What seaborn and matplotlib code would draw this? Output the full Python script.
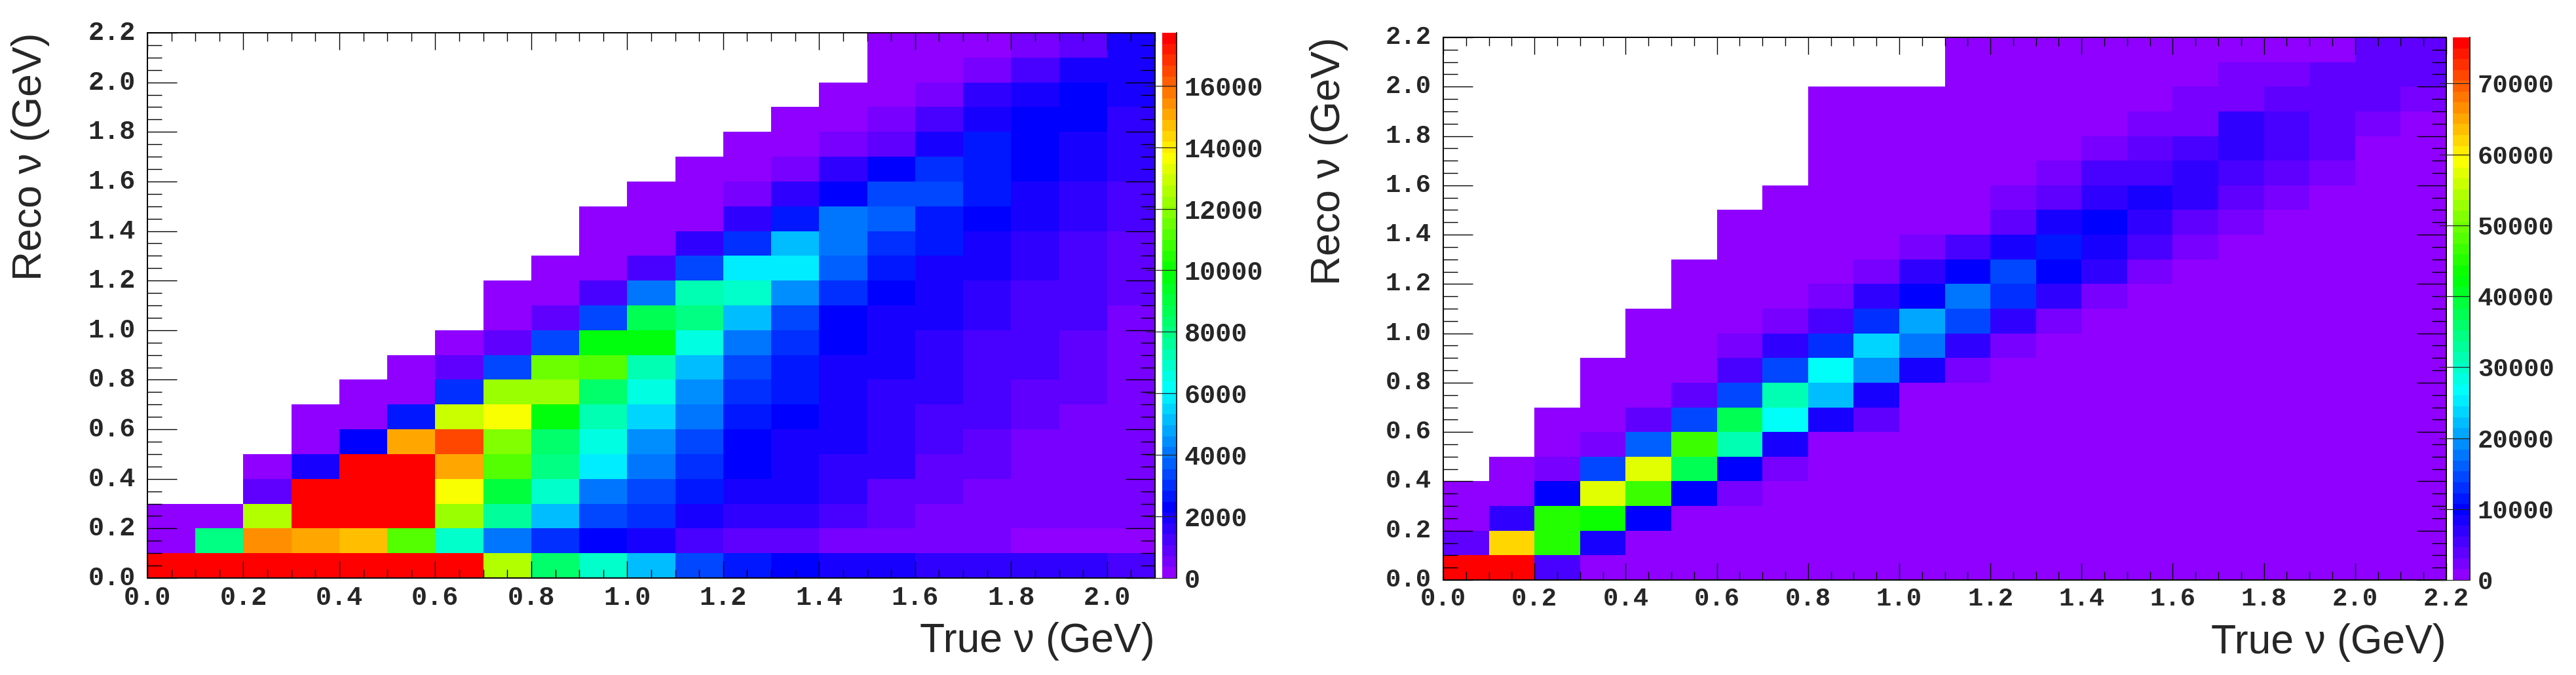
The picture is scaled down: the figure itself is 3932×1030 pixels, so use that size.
import colorsys
import numpy as np
import matplotlib
matplotlib.use("Agg")
import matplotlib.pyplot as plt
from matplotlib.colors import ListedColormap
import seaborn as sns

# every inner list is one True-nu bin, from the lowest Reco-nu bin upwards.
# bins above the last value are empty (white)
left_columns = [
    [17800, 100, 100],
    [17800, 7900, 100],
    [17800, 15430, 12600, 1000, 100],
    [17800, 15050, 17800, 17800, 1900, 100, 100],
    [17800, 14660, 17800, 17800, 17800, 2300, 100, 100],
    [17800, 11180, 17800, 17800, 17800, 15050, 2700, 100, 100],
    [17800, 6800, 12300, 13740, 15050, 16500, 12890, 2900, 1000, 100],
    [12450, 4200, 7700, 9000, 11180, 11820, 13740, 12300, 3300, 800, 100, 100],
    [8500, 3000, 5000, 6800, 7900, 8500, 9900, 12300, 11570, 3500, 1000, 100, 100],
    [7000, 2300, 3500, 4200, 6000, 6600, 7400, 8500, 11180, 9900, 3500, 1200, 100, 100, 100],
    [5100, 1900, 2900, 3200, 4000, 4600, 5500, 6400, 7200, 9900, 8800, 4000, 1200, 100, 100, 100],
    [3500, 1300, 1900, 2500, 3000, 3500, 4000, 4300, 5100, 6400, 7900, 7400, 3200, 1500, 100, 100, 100],
    [2800, 900, 1500, 1900, 2200, 2400, 2700, 2900, 3500, 4200, 5100, 6800, 6000, 2900, 1500, 700, 100, 100],
    [2300, 1000, 1500, 1800, 1900, 2000, 2200, 2600, 2800, 3100, 3200, 4300, 5800, 5100, 2700, 1700, 700, 100, 100],
    [2000, 500, 1100, 1500, 1700, 1900, 1900, 2100, 2100, 2200, 2400, 2900, 3600, 4200, 4000, 2400, 1500, 700, 100, 100],
    [1800, 500, 1000, 900, 1500, 1600, 1700, 1700, 1900, 1900, 2100, 2200, 2500, 2900, 3700, 3200, 2200, 900, 500, 100, 100, 100],
    [1700, 400, 700, 900, 900, 1100, 1200, 1500, 1700, 1700, 1800, 1800, 2050, 2500, 2700, 3200, 2900, 2000, 1200, 700, 300, 100],
    [1600, 400, 500, 650, 850, 950, 1100, 1200, 1300, 1400, 1600, 1700, 1800, 2100, 2200, 2600, 2700, 2800, 2050, 1500, 700, 150],
    [1600, 350, 450, 550, 700, 700, 850, 950, 1100, 1200, 1400, 1400, 1500, 1600, 1900, 2100, 2200, 2400, 2200, 1900, 1200, 500],
    [1600, 350, 400, 500, 600, 700, 700, 750, 800, 950, 1150, 1200, 1200, 1200, 1600, 1700, 1800, 1900, 2200, 2200, 1900, 900],
    [1100, 100, 400, 500, 600, 600, 700, 700, 600, 650, 600, 850, 950, 950, 1100, 1400, 1500, 1600, 1700, 2000, 2100, 1800],
]

right_columns = [
    [76600, 3500, 300, 300],
    [76600, 61800, 6300, 300, 300],
    [5200, 45600, 45000, 9400, 2000, 300, 300],
    [300, 7800, 44000, 57300, 14000, 2000, 300, 300, 300],
    [300, 1500, 9400, 47100, 57300, 15700, 4500, 300, 300, 300, 300],
    [300, 300, 1500, 9400, 37500, 47100, 15000, 4100, 1500, 300, 300, 300, 300],
    [300, 300, 300, 2000, 9500, 31500, 37500, 14000, 4800, 2000, 300, 300, 300, 300, 300],
    [300, 300, 300, 300, 1800, 7800, 26200, 31500, 15000, 6300, 2700, 300, 300, 300, 300, 300],
    [300, 300, 300, 300, 300, 1500, 7800, 22000, 26200, 13500, 5200, 2500, 300, 300, 300, 300, 300, 300, 300, 300],
    [300, 300, 300, 300, 300, 1500, 3500, 7800, 18800, 23000, 13000, 6800, 2000, 300, 300, 300, 300, 300, 300, 300],
    [300, 300, 300, 300, 300, 300, 1500, 1500, 8300, 17800, 19900, 10300, 6300, 2000, 600, 300, 300, 300, 300, 300],
    [300, 300, 300, 300, 300, 300, 300, 1300, 1800, 7300, 14000, 17800, 9400, 5200, 1500, 300, 300, 300, 300, 300, 300, 300],
    [300, 300, 300, 300, 300, 300, 300, 300, 300, 2000, 6800, 13500, 14500, 8300, 4100, 1800, 300, 300, 300, 300, 300, 300],
    [300, 300, 300, 300, 300, 300, 300, 300, 300, 300, 2700, 6300, 9400, 11000, 8000, 4100, 2000, 300, 300, 300, 300, 300],
    [300, 300, 300, 300, 300, 300, 300, 300, 300, 300, 300, 2000, 6300, 8300, 9400, 7300, 4800, 2500, 300, 300, 300, 300],
    [300, 300, 300, 300, 300, 300, 300, 300, 300, 300, 300, 300, 2000, 5200, 7300, 8300, 5800, 4100, 2000, 300, 300, 300],
    [300, 300, 300, 300, 300, 300, 300, 300, 300, 300, 300, 300, 300, 2000, 4100, 7300, 7300, 5600, 2000, 2000, 300, 300],
    [300, 300, 300, 300, 300, 300, 300, 300, 300, 300, 300, 300, 300, 300, 2000, 4100, 5600, 6300, 6300, 2000, 1800, 300],
    [300, 300, 300, 300, 300, 300, 300, 300, 300, 300, 300, 300, 300, 300, 300, 2000, 3500, 5600, 5600, 3500, 2000, 1000],
    [300, 300, 300, 300, 300, 300, 300, 300, 300, 300, 300, 300, 300, 300, 300, 300, 2000, 4100, 4100, 3500, 3500, 1000],
    [300, 300, 300, 300, 300, 300, 300, 300, 300, 300, 300, 300, 300, 300, 300, 300, 300, 1500, 2000, 3500, 3500, 4100],
    [300, 300, 300, 300, 300, 300, 300, 300, 300, 300, 300, 300, 300, 300, 300, 300, 300, 300, 1500, 1800, 4100, 4100],
]

y_ticks = [0.0, 0.2, 0.4, 0.6, 0.8, 1.0, 1.2, 1.4, 1.6, 1.8, 2.0, 2.2]
left_x_ticks = [0.0, 0.2, 0.4, 0.6, 0.8, 1.0, 1.2, 1.4, 1.6, 1.8, 2.0]
right_x_ticks = y_ticks
left_cbar_ticks = [0, 2000, 4000, 6000, 8000, 10000, 12000, 14000, 16000]
right_cbar_ticks = [0, 10000, 20000, 30000, 40000, 50000, 60000, 70000]
left_vmax = 17720
right_vmax = 76500
BIN = 0.1

W, H = 3932, 1030
DPI = 100


def box(x0, x1, y0, y1):
    # pixel box of the picture -> figure fractions
    return [x0 / W, 1 - y1 / H, (x1 - x0) / W, (y1 - y0) / H]


def rainbow():
    # ROOT style 50 colour palette, violet to red
    hues = np.linspace(273.6, 0, 50) / 360
    return ListedColormap([colorsys.hsv_to_rgb(h, 1, 1) for h in hues])


def draw_panel(fig, columns, x_ticks, cbar_ticks, vmax, ax_box, cb_box, fs, lab_x):
    n_y = 22
    n_x = len(columns)
    matrix = np.full((n_y, n_x), np.nan)
    for i, col in enumerate(columns):
        matrix[:len(col), i] = col

    ax = fig.add_axes(box(*ax_box))
    cax = fig.add_axes(box(*cb_box))
    sns.heatmap(matrix, ax=ax, cbar_ax=cax, cmap=rainbow(), vmin=0, vmax=vmax,
                xticklabels=False, yticklabels=False)
    ax.set_xlim(0, n_x)
    ax.set_ylim(0, n_y)
    ax.set_axisbelow(False)

    ax.set_xticks(np.array(x_ticks) / BIN)
    ax.set_xticklabels([f"{t:.1f}" for t in x_ticks], rotation=0)
    ax.set_yticks(np.array(y_ticks) / BIN)
    ax.set_yticklabels([f"{t:.1f}" for t in y_ticks], rotation=0, va="center")
    ax.set_xticks(np.arange(0, n_x + 0.01, 0.5), minor=True)
    ax.set_yticks(np.arange(0, n_y + 0.01, 0.5), minor=True)

    ax.tick_params(which="both", direction="in", bottom=True, left=True, top=True, right=True,
                   width=1, color="black")
    ax.tick_params(axis="x", which="major", length=18.5, pad=8, labelsize=fs)
    ax.tick_params(axis="x", which="minor", length=9.5)
    ax.tick_params(axis="y", which="major", length=32.5, pad=13, labelsize=fs)
    ax.tick_params(axis="y", which="minor", length=16)
    for lab in ax.get_xticklabels() + ax.get_yticklabels():
        lab.set_fontfamily("Liberation Mono")
        lab.set_fontweight("bold")

    for s in ax.spines.values():
        s.set_visible(True)
        s.set_linewidth(1.4)
        s.set_color("black")

    ax.set_xlabel("True \u03bd (GeV)", fontsize=45, family="Liberation Sans", loc="right")
    ax.set_ylabel("Reco \u03bd (GeV)", fontsize=45, family="Liberation Sans", loc="top", va="center")
    ax.xaxis.set_label_coords(1, -0.08)
    ax.yaxis.set_label_coords((lab_x - ax_box[0]) / (ax_box[1] - ax_box[0]), 1)

    cbar = ax.collections[0].colorbar
    cbar.outline.set_visible(False)
    cbar.set_ticks(cbar_ticks)
    cbar.set_ticklabels([str(t) for t in cbar_ticks])
    cax.minorticks_off()
    cax.spines["right"].set_visible(True)
    cax.spines["right"].set_linewidth(1.2)
    cax.spines["right"].set_color("black")
    cax.set_axisbelow(False)
    cax.tick_params(direction="in", right=True, length=34, width=0.9, pad=8.5, labelsize=fs, color="#222222")
    for lab in cax.get_yticklabels():
        lab.set_fontfamily("Liberation Mono")
        lab.set_fontweight("bold")
    return ax


sns.set_style("white")
plt.rcParams["font.family"] = ["Liberation Sans", "DejaVu Sans"]

fig = plt.figure(figsize=(W / DPI, H / DPI), dpi=DPI)

draw_panel(fig, left_columns, left_x_ticks, left_cbar_ticks, left_vmax,
           (225, 1763, 50, 882), (1774, 1796, 50, 882), 29, 47)
draw_panel(fig, right_columns, right_x_ticks, right_cbar_ticks, right_vmax,
           (2203, 3734, 57, 885), (3744, 3770, 57, 885), 28, 2028)

fig.savefig("out.png", dpi=DPI)
